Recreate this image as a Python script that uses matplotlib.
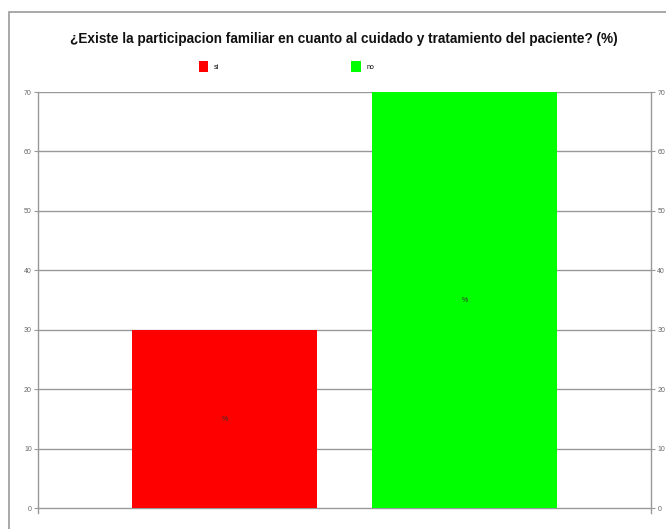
import matplotlib
matplotlib.use('Agg')
import matplotlib.pyplot as plt
from matplotlib.patches import Rectangle, Patch

# data
series = ['si', 'no']
values = [30, 70]
colors = ['#ff0000', '#00ff00']
yticks = [0, 10, 20, 30, 40, 50, 60, 70]

plt.rcParams['font.family'] = ['Liberation Sans', 'DejaVu Sans']

W, H = 666, 529
fig = plt.figure(figsize=(W / 100, H / 100), dpi=100)

# outer frame (runs off the right and bottom edges)
fig.patches.append(Rectangle((9 / W, -0.1), 1.2, 1.1 - 12 / H, transform=fig.transFigure,
                             fill=False, edgecolor='#999999', linewidth=1.2))

ax = fig.add_axes([38 / W, 1 - 513 / H, (651 - 38) / W, (513 - 92) / H])

xpos = [0, 1]
ax.bar(xpos, values, width=0.77, color=colors, zorder=3)
for x, v in zip(xpos, values):
    ax.text(x, v / 2, '%', ha='center', va='center', fontsize=5, color='#333333', zorder=4)

ax.set_xlim(-0.776, 1.776)
ax.set_ylim(-0.8, 70)
ax.set_yticks(yticks)
ax.set_xticks([])
ax.grid(axis='y', color='#999999', linewidth=1, zorder=0)
ax.tick_params(axis='y', which='both', left=True, right=True, labelleft=True, labelright=True,
               length=3, color='#999999', labelsize=5, labelcolor='#666666', pad=1.5)
for s in ['top', 'bottom']:
    ax.spines[s].set_visible(False)
for s in ['left', 'right']:
    ax.spines[s].set_color('#999999')
    ax.spines[s].set_linewidth(1)

fig.text(343.5 / W, 1 - 38.5 / H, '¿Existe la participacion familiar en cuanto al cuidado y tratamiento del paciente? (%)',
         ha='center', va='center', fontsize=9.85, fontweight='bold', color='#111111')

handles = [Patch(facecolor=c, edgecolor='none') for c in colors]
fig.legend(handles, series, loc='center', bbox_to_anchor=(0.43, 1 - 66.5 / H), ncol=2,
           frameon=False, fontsize=5, handlelength=1.4, handleheight=1.9, columnspacing=19,
           handletextpad=0.8)

fig.savefig('out.png', dpi=100)
